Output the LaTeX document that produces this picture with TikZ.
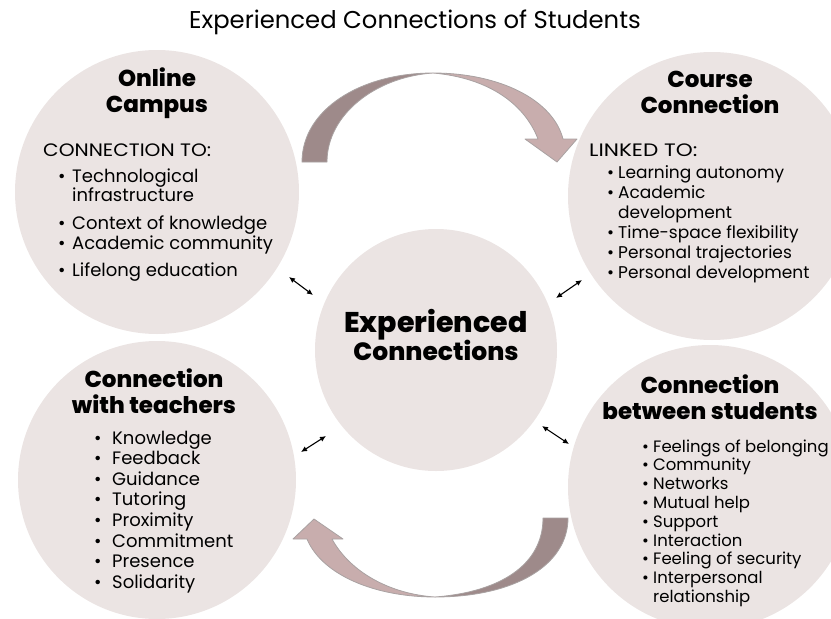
\documentclass[tikz,border=0pt]{standalone}
\usepackage{fontspec}
\setmainfont{Poppins}[BoldFont={Poppins ExtraBold}]
\usetikzlibrary{arrows.meta}
\definecolor{circfill}{HTML}{EBE4E3}
\definecolor{arrdark}{HTML}{9E8A8A}
\definecolor{arrlight}{HTML}{C8ADAD}
\definecolor{arredge}{HTML}{A9A2A2}
\newcommand{\bl}[1]{\makebox[#1][l]{•}}
\begin{document}
\begin{tikzpicture}[x=1pt,y=-1pt,
  bubble/.style={circle, fill=circfill, draw=none, inner sep=0},
  head/.style={font=\bfseries\fontsize{23}{27}\selectfont, anchor=base, inner sep=0},
  item/.style={font=\fontsize{18}{20}\selectfont, anchor=base west, inner sep=0},
  itemc/.style={item, font=\fontsize{17}{20}\selectfont},
  items/.style={item, font=\fontsize{16.5}{19}\selectfont},
  dbl/.style={{Latex[length=6pt,width=5.5pt]}-{Latex[length=6pt,width=5.5pt]}, line width=1.1pt},
  arrpart/.style={draw=arredge, line width=0.8pt, line join=round}]
\useasboundingbox (0,0) rectangle (831,619);
\clip (0,0) rectangle (831,619);
% title
\node[font=\fontsize{24.3}{28}\selectfont, anchor=base, inner sep=0] (title) at (415,28) {Experienced Connections of Students};
% circles
\node[bubble, minimum size=284pt] (oc) at (157,192) {};
\node[bubble, minimum size=288pt] (cc) at (712,196) {};
\node[bubble, minimum size=242pt] (ec) at (436,350) {};
\node[bubble, minimum size=278pt] (ct) at (157,480) {};
\node[bubble, minimum size=284pt] (cs) at (710,487) {};
% top curved arrow
\path[arrpart, fill=arrdark] (302,162) .. controls (302,110) and (360,73) .. (433,73)
  .. controls (375,77) and (327,115) .. (327,162) -- cycle;
\path[arrpart, fill=arrlight] (433,73) .. controls (500,73) and (553,100) .. (563,139)
  -- (577,139) -- (557,162) -- (525,139) -- (538,139)
  .. controls (525,105) and (490,78) .. (433,73) -- cycle;
% bottom curved arrow
\path[arrpart, fill=arrdark] (568,518) .. controls (568,565) and (515,597) .. (435,597)
  .. controls (500,592) and (543,565) .. (543,518) -- cycle;
\path[arrpart, fill=arrlight] (435,597) .. controls (375,597) and (322,575) .. (307,539)
  -- (293,539) -- (314,519) -- (343,539) -- (332,539)
  .. controls (350,572) and (390,594) .. (435,597) -- cycle;
% small double arrows
\coordinate (d1a) at (289,277); \coordinate (d1b) at (313,295);
\coordinate (d2a) at (556,298); \coordinate (d2b) at (582,280);
\coordinate (d3a) at (301,452); \coordinate (d3b) at (326,436);
\coordinate (d4a) at (542,426); \coordinate (d4b) at (569,444);
\draw[dbl] (d1a) -- (d1b);
\draw[dbl] (d2a) -- (d2b);
\draw[dbl] (d3a) -- (d3b);
\draw[dbl] (d4a) -- (d4b);
% center
\node[head, font=\bfseries\fontsize{28.5}{32}\selectfont] (ec1) at (436,332) {Experienced};
\node[head, font=\bfseries\fontsize{25}{29}\selectfont] (ec2) at (436,360) {Connections};
% Online Campus
\node[head] (och1) at (157,86) {Online};
\node[head] (och2) at (157,112) {Campus};
\node[item] (oct) at (43,156) {\scalebox{1.12}[1]{CONNECTION TO:}};
\node[item] (oc1) at (58,182) {\bl{14pt}Technological};
\node[item] (oc1b) at (72,201) {infrastructure};
\node[item] (oc2) at (58,229) {\bl{14pt}Context of knowledge};
\node[item] (oc3) at (58,249) {\bl{14pt}Academic community};
\node[item] (oc4) at (58,276) {\bl{14pt}Lifelong education};
% Course Connection
\node[head] (cch1) at (710,87) {Course};
\node[head] (cch2) at (710,113) {Connection};
\node[item] (cct) at (589,156) {\scalebox{1.2}[1]{LINKED TO:}};
\node[itemc] (cc1) at (607,178) {\bl{11pt}Learning autonomy};
\node[itemc] (cc2) at (607,198) {\bl{11pt}Academic};
\node[itemc] (cc2b) at (618,218) {development};
\node[itemc] (cc3) at (607,238) {\bl{11pt}Time-space flexibility};
\node[itemc] (cc4) at (607,258) {\bl{11pt}Personal trajectories};
\node[itemc] (cc5) at (607,278) {\bl{11pt}Personal development};
% Connection with teachers
\node[head] (cth1) at (154,387) {Connection};
\node[head] (cth2) at (154,413) {with teachers};
\node[item] (ct1) at (94,444) {\bl{18pt}Knowledge};
\node[item] (ct2) at (94,464.6) {\bl{18pt}Feedback};
\node[item] (ct3) at (94,485.2) {\bl{18pt}Guidance};
\node[item] (ct4) at (94,505.8) {\bl{18pt}Tutoring};
\node[item] (ct5) at (94,526.4) {\bl{18pt}Proximity};
\node[item] (ct6) at (94,547) {\bl{18pt}Commitment};
\node[item] (ct7) at (94,567.6) {\bl{18pt}Presence};
\node[item] (ct8) at (94,588.2) {\bl{18pt}Solidarity};
% Connection between students
\node[head] (csh1) at (710,393) {Connection};
\node[head] (csh2) at (710,419) {between students};
\node[items] (cs1) at (642,452) {\bl{11pt}Feelings of belonging};
\node[items] (cs2) at (642,470.8) {\bl{11pt}Community};
\node[items] (cs3) at (642,489.6) {\bl{11pt}Networks};
\node[items] (cs4) at (642,508.4) {\bl{11pt}Mutual help};
\node[items] (cs5) at (642,527.2) {\bl{11pt}Support};
\node[items] (cs6) at (642,546) {\bl{11pt}Interaction};
\node[items] (cs7) at (642,564.8) {\bl{11pt}Feeling of security};
\node[items] (cs8) at (642,583.6) {\bl{11pt}Interpersonal};
\node[items] (cs8b) at (653,602.4) {relationship};
\end{tikzpicture}
\end{document}
